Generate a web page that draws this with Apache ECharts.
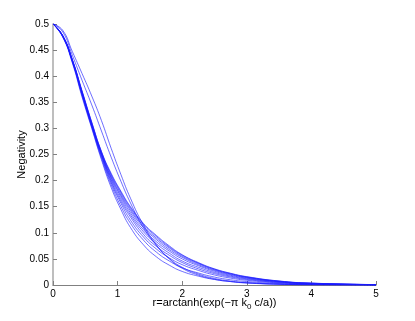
<!DOCTYPE html>
<html>
<head>
<meta charset="utf-8">
<script src="https://cdn.jsdelivr.net/npm/echarts@6/dist/echarts.min.js"></script>
<style>html,body{margin:0;padding:0;background:#fff;}#c{width:415px;height:321px;}</style>
</head>
<body>
<div id="c"></div>
<script>
// sample positions along r
const rValues = [0, 0.15, 0.3, 0.45, 0.6, 0.75, 0.9, 1.05, 1.2, 1.4, 1.6, 1.8, 2.0, 2.25, 2.5, 2.75, 3.0, 3.5, 4.0, 5.0];

// negativity curves
const curveA = [.5, .488, .447, .405, .362, .315, .262, .212, .166, .115, .077, .05, .032, .019, .011, .0065, .0038, .0013, .0004, .00003];
const curveB = [.5, .485, .44, .392, .345, .295, .245, .199, .157, .11, .076, .051, .034, .021, .0125, .0075, .0045, .0016, .0005, .00004];
const curveL = [.5, .475, .425, .36, .30, .24, .187, .145, .11, .077, .054, .038, .026, .017, .0105, .0066, .0042, .0017, .0007, .0001];
const curve1 = [.5, .476, .427, .363, .302, .243, .192, .151, .118, .086, .063, .046, .033, .023, .0152, .0100, .0066, .0028, .0011, .0002];
const curve2 = [.5, .476, .428, .364, .304, .246, .196, .157, .124, .092, .069, .052, .039, .028, .0192, .0132, .0090, .0040, .0017, .0003];
const curve3 = [.5, .477, .429, .366, .305, .248, .199, .161, .13, .097, .074, .057, .043, .031, .0218, .0153, .0106, .0048, .0021, .0004];
const curve4 = [.5, .477, .429, .367, .306, .25, .202, .165, .134, .102, .079, .061, .046, .034, .0240, .0170, .0119, .0055, .0025, .0005];
const curve5 = [.5, .477, .43, .368, .307, .251, .205, .169, .138, .106, .083, .065, .050, .037, .0262, .0186, .0131, .0062, .0028, .0006];
const curve6 = [.5, .477, .43, .369, .308, .252, .207, .172, .142, .110, .087, .068, .053, .039, .0280, .0200, .0141, .0067, .0031, .0006];
const curve7 = [.5, .478, .431, .37, .31, .254, .21, .175, .145, .113, .090, .071, .055, .041, .0293, .0211, .0149, .0071, .0033, .0007];
const curve8 = [.5, .478, .431, .371, .311, .255, .212, .178, .148, .116, .093, .073, .057, .042, .0303, .0219, .0155, .0074, .0035, .0007];
const curveU = [.5, .478, .432, .372, .312, .256, .214, .18, .15, .118, .095, .075, .058, .043, .0310, .0225, .0160, .0077, .0036, .0008];

const allCurves = [curveA, curveB, curveL, curve1, curve2, curve3, curve4, curve5, curve6, curve7, curve8, curveU];

const xTicks = [0, 1, 2, 3, 4, 5];
const yTickStep = 0.05;

const chart = echarts.init(document.getElementById('c'), null, {renderer: 'canvas'});
const font = '"Liberation Sans", Arial, sans-serif';

chart.setOption({
  animation: false,
  backgroundColor: '#fff',
  grid: {left: 53, right: 39, top: 24, bottom: 36, containLabel: false},
  xAxis: {
    type: 'value', min: xTicks[0], max: xTicks[xTicks.length - 1], interval: 1,
    name: '{m|r=arctanh(exp(\u2212\u03c0 k}{s|0}{m| c/a))}',
    nameLocation: 'middle', nameGap: 12, nameMoveOverlap: false,
    nameTextStyle: {rich: {
      m: {fontFamily: font, fontSize: 11, color: '#000', verticalAlign: 'top'},
      s: {fontFamily: font, fontSize: 8, color: '#000', padding: [6, 0, 0, 0], verticalAlign: 'top'}
    }},
    axisLine: {lineStyle: {color: '#808080', width: 1}},
    axisTick: {inside: true, length: 4, lineStyle: {color: '#808080'}},
    axisLabel: {fontFamily: font, fontSize: 10, color: '#000', margin: 4},
    splitLine: {show: false}
  },
  yAxis: {
    type: 'value', min: 0, max: 0.5, interval: yTickStep,
    name: 'Negativity', nameLocation: 'middle', nameGap: 26, nameRotate: 90, nameMoveOverlap: false,
    nameTextStyle: {fontFamily: font, fontSize: 11, color: '#000'},
    axisLine: {show: true, lineStyle: {color: '#a8a8a8', width: 1.5}},
    axisTick: {show: true, inside: true, length: 4, lineStyle: {color: '#808080'}},
    axisLabel: {fontFamily: font, fontSize: 10, color: '#000', margin: 4,
      formatter: v => String(+v.toFixed(2))},
    splitLine: {show: false}
  },
  series: allCurves.map(c => ({
    type: 'line', showSymbol: false, smooth: 0.5, silent: true,
    lineStyle: {color: '#1a1aff', width: 0.8, opacity: 0.8},
    data: rValues.map((r, i) => [r, c[i]])
  }))
});
</script>
</body>
</html>
